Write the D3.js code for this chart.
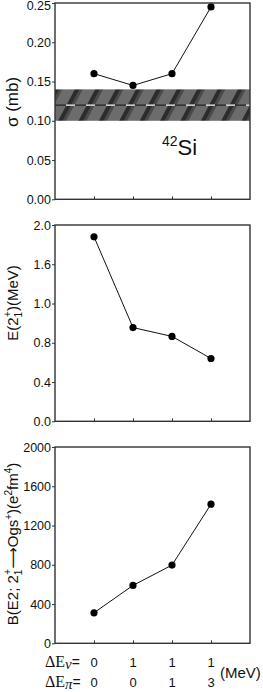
<!DOCTYPE html>
<html>
<head>
<meta charset="utf-8">
<script src="https://cdn.jsdelivr.net/npm/d3@7"></script>
<style>
  body { margin: 0; background: #fff; }
  svg { display: block; font-family: "Liberation Sans", Arial, sans-serif; }
</style>
</head>
<body>
<svg></svg>
<script>
// shell-model variants (MeV shifts)
const dEnu = [0, 1, 1, 1];
const dEpi = [0, 0, 1, 3];

const sigma = [0.160, 0.145, 0.160, 0.245];
const energy = [1.88, 0.955, 0.865, 0.64];
const be2 = [311, 590, 797, 1417];

// experimental sigma band
const bandLow = 0.10, bandHigh = 0.14, bandMean = 0.12;

const sigmaTicks = [0, 0.05, 0.10, 0.15, 0.20, 0.25];
const sigmaLabels = ["0.00", "0.05", "0.10", "0.15", "0.20", "0.25"];
const energyTicks = [0, 0.4, 0.8, 1.2, 1.6, 2.0];
const energyLabels = ["0.0", "0.4", "0.8", "1.0", "1.6", "2.0"];
const be2Ticks = [0, 400, 800, 1200, 1600, 2000];
const be2Labels = ["0", "400", "800", "1200", "1600", "2000"];

const W = 263, H = 692;
const left = 55, right = 250, ph = 196.3;
const tops = [3, 225, 447];

let svg = d3.select('svg').attr('width', W).attr('height', H);

let defs = svg.append('defs');
let pat = defs.append('pattern')
  .attr('id', 'hatch')
  .attr('patternUnits', 'userSpaceOnUse')
  .attr('width', 18).attr('height', 18)
  .attr('patternTransform', 'rotate(28)');
pat.append('rect').attr('width', 18).attr('height', 18).attr('fill', '#6c6c6c');
pat.append('rect').attr('x', 0).attr('width', 4).attr('height', 18).attr('fill', '#2c2c2c');
pat.append('rect').attr('x', 4).attr('width', 3).attr('height', 18).attr('fill', '#4a4a4a');

let x = d3.scaleLinear().domain([-1, 4]).range([left, right]);
let idx = d3.range(dEnu.length);

function panel(top, maxV, values, ticks, labels) {
  let y = d3.scaleLinear().domain([0, maxV]).range([top + ph, top]);
  let g = svg.append('g');
  return { g, y, values, ticks, labels, top };
}

function finish(p) {
  let { g, y, values, ticks, labels, top } = p;
  let lineGenerator = d3.line().x((d, i) => x(i)).y(d => y(d));
  g.append('path')
    .attr('d', lineGenerator(values))
    .attr('fill', 'none')
    .attr('stroke', '#111')
    .attr('stroke-width', 1);
  g.selectAll('circle.pt').data(values).enter().append('circle')
    .attr('class', 'pt')
    .attr('cx', (d, i) => x(i))
    .attr('cy', d => y(d))
    .attr('r', 3.6)
    .attr('fill', '#000');

  // frame
  g.append('rect')
    .attr('x', left).attr('y', top)
    .attr('width', right - left).attr('height', ph)
    .attr('fill', 'none').attr('stroke', '#333').attr('stroke-width', 1.4);

  let yAxis = d3.axisLeft(y).tickValues(ticks)
    .tickFormat((d, i) => labels[i]).tickSize(3).tickPadding(1);
  let ya = g.append('g').attr('transform', `translate(${left},0)`).call(yAxis);
  ya.select('.domain').remove();
  ya.selectAll('line').attr('stroke', '#333');
  ya.selectAll('text').style('font-size', '12.5px').attr('fill', '#111');
  // keep the top label inside the page
  ya.selectAll('.tick').filter((d, i) => i === ticks.length - 1)
    .select('text').attr('dy', top < 10 ? '0.5em' : '0.32em');

  let xAxis = d3.axisTop(x).tickValues(idx).tickFormat('').tickSize(3);
  let xa = g.append('g').attr('transform', `translate(0,${top + ph})`).call(xAxis);
  xa.select('.domain').remove();
  xa.selectAll('line').attr('stroke', '#333');
}

// panel 1: sigma
let p1 = panel(tops[0], 0.25, sigma, sigmaTicks, sigmaLabels);
p1.g.append('rect')
  .attr('x', left).attr('y', p1.y(bandHigh))
  .attr('width', right - left).attr('height', p1.y(bandLow) - p1.y(bandHigh))
  .attr('fill', 'url(#hatch)');
p1.g.append('line')
  .attr('x1', left).attr('x2', right)
  .attr('y1', p1.y(bandMean)).attr('y2', p1.y(bandMean))
  .attr('stroke', '#222').attr('stroke-width', 1.2);
p1.g.append('line')
  .attr('x1', left + 11).attr('x2', right)
  .attr('y1', p1.y(bandMean)).attr('y2', p1.y(bandMean))
  .attr('stroke', '#fff').attr('stroke-width', 1.2)
  .attr('stroke-dasharray', '9 11');
finish(p1);

let si = svg.append('text').attr('x', 162).attr('y', 155).attr('fill', '#111');
si.append('tspan').attr('dy', -9).style('font-size', '14px').text('42');
si.append('tspan').attr('dy', 9).style('font-size', '22px').text('Si');

// panel 2: E(2+)
let p2 = panel(tops[1], 2.0, energy, energyTicks, energyLabels);
finish(p2);

// panel 3: B(E2)
let p3 = panel(tops[2], 2000, be2, be2Ticks, be2Labels);
finish(p3);

// y titles
svg.append('text')
  .attr('transform', 'translate(18,102) rotate(-90)')
  .attr('text-anchor', 'middle')
  .style('font-size', '17px').attr('fill', '#111')
  .text('\u03c3 (mb)');

let t2 = svg.append('text')
  .attr('transform', 'translate(18,303) rotate(-90)')
  .attr('text-anchor', 'middle')
  .style('font-size', '15px').attr('fill', '#111');
t2.append('tspan').text('E(2');
t2.append('tspan').attr('dy', 4).style('font-size', '10px').text('1');
t2.append('tspan').attr('dy', -11).attr('dx', -5).style('font-size', '10px').text('+');
t2.append('tspan').attr('dy', 7).text(')(MeV)');

let t3 = svg.append('text')
  .attr('transform', 'translate(18,544) rotate(-90)')
  .attr('text-anchor', 'middle')
  .style('font-size', '15px').attr('fill', '#111');
t3.append('tspan').text('B(E2; 2');
t3.append('tspan').attr('dy', 4).style('font-size', '10px').text('1');
t3.append('tspan').attr('dy', -11).attr('dx', -5).style('font-size', '10px').text('+');
t3.append('tspan').attr('dy', 7).style('font-family', 'DejaVu Sans').text('\u27f6');
t3.append('tspan').text('Ogs');
t3.append('tspan').attr('dy', -6).style('font-size', '10px').text('+');
t3.append('tspan').attr('dy', 6).text(')(e');
t3.append('tspan').attr('dy', -6).style('font-size', '10px').text('2');
t3.append('tspan').attr('dy', 6).text('fm');
t3.append('tspan').attr('dy', -6).style('font-size', '10px').text('4');
t3.append('tspan').attr('dy', 6).text(')');

// bottom variant labels
function rowLabel(yb, sym, vals) {
  let t = svg.append('text').attr('x', 45).attr('y', yb).attr('fill', '#111');
  t.append('tspan').style('font-family', '"Liberation Serif", serif').style('font-size', '16px').text('\u0394E');
  t.append('tspan').attr('dy', 1.5).style('font-family', '"Liberation Serif", serif')
    .style('font-style', 'italic').style('font-size', '15px').text(sym);
  t.append('tspan').attr('dy', -1.5).style('font-size', '14px').text('=');
  svg.selectAll(null).data(vals).enter().append('text')
    .attr('x', (d, i) => x(i)).attr('y', yb)
    .attr('text-anchor', 'middle')
    .style('font-size', '13px').attr('fill', '#111')
    .text(d => d);
}
rowLabel(667, '\u03bd', dEnu);
rowLabel(687, '\u03c0', dEpi);

svg.append('text').attr('x', 220).attr('y', 678)
  .style('font-size', '15px').attr('fill', '#111').text('(MeV)');
</script>
</body>
</html>
